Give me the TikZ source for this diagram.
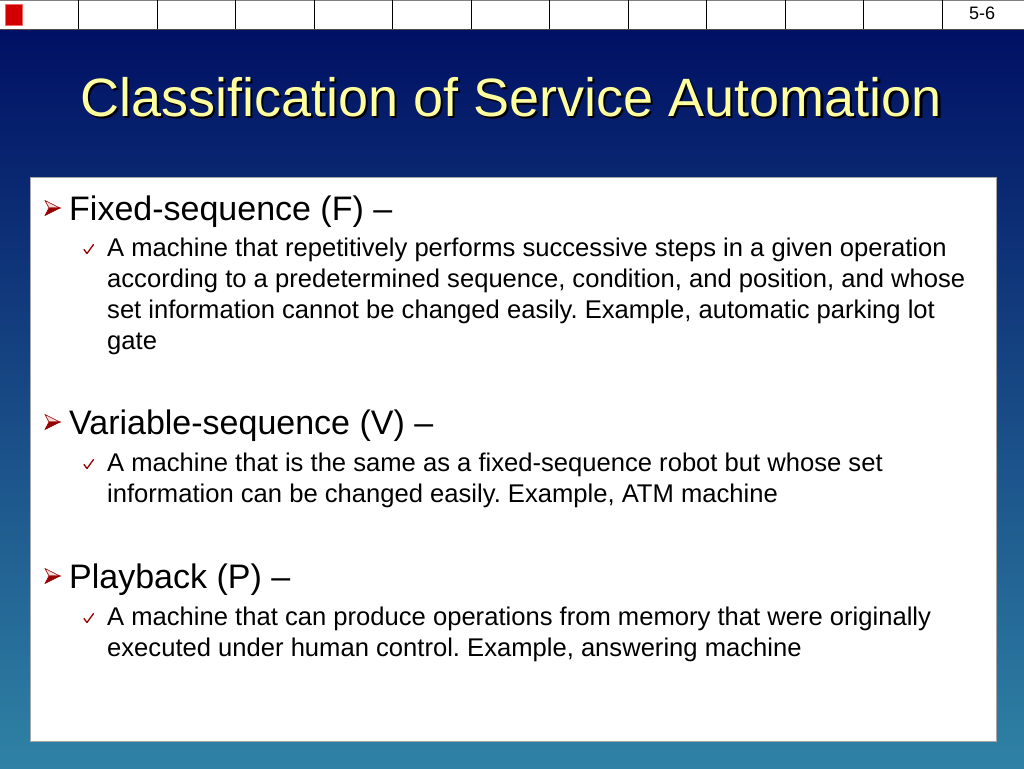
\documentclass[tikz,border=0pt]{standalone}
\usepackage{fontspec}
\setmainfont{Liberation Sans}
\frenchspacing
\definecolor{navytop}{RGB}{0,16,100}
\definecolor{tealbot}{RGB}{47,130,165}
\definecolor{titleyellow}{RGB}{255,255,160}
\definecolor{bulletred}{RGB}{150,0,0}
\definecolor{boxred}{RGB}{208,0,0}
\begin{document}
\begin{tikzpicture}[x=1pt,y=-1pt,
  maintext/.style={anchor=base west,inner sep=0pt,font=\fontsize{34}{40}\selectfont\frenchspacing,text=black},
  subtext/.style={anchor=base west,inner sep=0pt,font=\fontsize{25.6}{31}\selectfont\frenchspacing,text=black},
  arrowbul/.pic={
    \fill[bulletred!15,draw=bulletred,line width=0.6pt] (0,-7.5) -- (15,0) -- (4,0) -- cycle;
    \fill[bulletred,draw=bulletred,line width=0.6pt] (4,0) -- (15,0) -- (0,7.5) -- cycle;
  },
  checkbul/.pic={
    \draw[bulletred,line width=1.3pt,line join=round,line cap=round] (0,-6.5) -- (3,-2.5) -- (9.5,-11.5);
  }]
\useasboundingbox (0,0) rectangle (1024,768);
% background
\fill[top color=navytop,bottom color=tealbot] (0,29) rectangle (1024,768);
% top bar
\fill[white] (0,0) rectangle (1024,29);
\draw[gray,line width=0.8pt] (0,0.4) -- (1024,0.4);
\draw[black!70,line width=0.8pt] (0,29) -- (1024,29);
\foreach \i in {1,...,12} \draw[black,line width=0.9pt] (78.5*\i,0) -- (78.5*\i,29);
\fill[boxred,draw=red!60] (5,4) rectangle (22,25);
\node[anchor=base,inner sep=0pt,font=\fontsize{18}{20}\selectfont] (pagenum) at (982,20) {5-6};
% title
\node[anchor=base,inner sep=0pt,font=\fontsize{54}{60}\selectfont,text=black] (titleshadow) at (513.5,118.5) {Classification of Service Automation};
\node[anchor=base,inner sep=0pt,font=\fontsize{54}{60}\selectfont,text=titleyellow] (title) at (511,116) {Classification of Service Automation};
% white box
\draw[fill=white,draw=gray!70,line width=0.8pt] (30,177) rectangle (996,741);
% Fixed
\pic at (45,208) {arrowbul};
\node[maintext] (fixed) at (69,220) {Fixed-sequence (F) –};
\pic at (84,256) {checkbul};
\node[subtext] (f1) at (107,256) {A machine that repetitively performs successive steps in a given operation};
\node[subtext] (f2) at (107,287) {according to a predetermined sequence, condition, and position, and whose};
\node[subtext] (f3) at (107,318) {set information cannot be changed easily. Example, automatic parking lot};
\node[subtext] (f4) at (107,349) {gate};
% Variable
\pic at (45,422) {arrowbul};
\node[maintext] (variable) at (69,434) {Variable-sequence (V) –};
\pic at (84,471) {checkbul};
\node[subtext] (v1) at (107,471) {A machine that is the same as a fixed-sequence robot but whose set};
\node[subtext] (v2) at (107,502) {information can be changed easily. Example, ATM machine};
% Playback
\pic at (45,576) {arrowbul};
\node[maintext] (playback) at (69,588) {Playback (P) –};
\pic at (84,625) {checkbul};
\node[subtext] (p1) at (107,625) {A machine that can produce operations from memory that were originally};
\node[subtext] (p2) at (107,656) {executed under human control. Example, answering machine};
\end{tikzpicture}
\end{document}
